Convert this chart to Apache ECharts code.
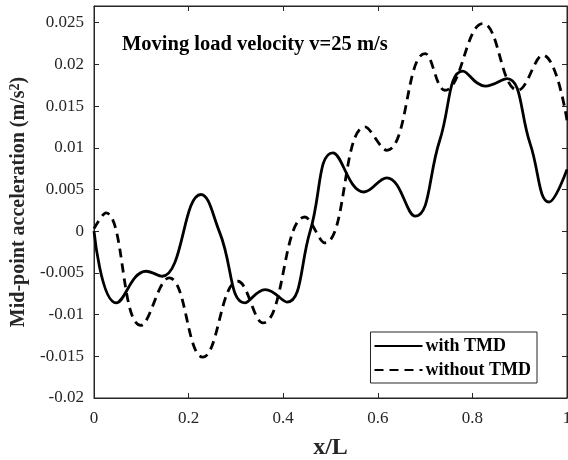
<!DOCTYPE html>
<html>
<head>
<meta charset="utf-8">
<script src="https://cdn.jsdelivr.net/npm/echarts@6/dist/echarts.min.js"></script>
<style>
  html, body { margin: 0; padding: 0; background: #fff; }
  #chart { width: 568px; height: 460px; }
</style>
</head>
<body>
<div id="chart"></div>
<script>
// values
var xWith = [0, 0.047, 0.110, 0.144, 0.226, 0.266, 0.319, 0.362, 0.408, 0.457, 0.505, 0.571, 0.619, 0.679, 0.731, 0.780, 0.827, 0.873, 0.922, 0.962, 1.0];
var yWith = [0, -0.0086, -0.0048, -0.0054, 0.0044, -0.0002, -0.0086, -0.0070, -0.0085, 0.0000, 0.0094, 0.0047, 0.0064, 0.0018, 0.0109, 0.0192, 0.0174, 0.0183, 0.0105, 0.0035, 0.0074];

var xWithout = [0, 0.025, 0.099, 0.159, 0.230, 0.304, 0.357, 0.446, 0.488, 0.573, 0.619, 0.700, 0.742, 0.822, 0.896, 0.949, 1.0];
var yWithout = [0.0003, 0.0022, -0.0113, -0.0056, -0.0151, -0.0060, -0.0110, 0.0017, -0.0014, 0.0125, 0.0097, 0.0213, 0.0169, 0.0249, 0.0169, 0.0211, 0.0133];

var seriesNames = ['with TMD', 'without TMD'];
var titleText = 'Moving load velocity v=25 m/s';

function pairs(xs, ys) {
    var out = [];
    for (var i = 0; i < xs.length; i++) {
        out.push([xs[i], ys[i]]);
    }
    return out;
}

var font = 'Liberation Serif';
var axisColor = '#262626';

var myChart = echarts.init(document.getElementById('chart'));
var option = {
    animation: false,
    backgroundColor: '#fff',
    title: {
        text: titleText,
        left: 117,
        top: 29,
        textStyle: { fontFamily: font, fontWeight: 'bold', fontSize: 20.5, color: '#000' }
    },
    grid: {
        left: 94, right: 1, top: 6, bottom: 62,
        outerBoundsMode: 'none',
        show: true, borderColor: axisColor, borderWidth: 1
    },
    legend: {
        orient: 'vertical',
        right: 31,
        bottom: 77,
        itemWidth: 48,
        itemHeight: 14,
        itemGap: 6,
        padding: [5, 6, 4, 3],
        borderColor: axisColor,
        borderWidth: 1,
        backgroundColor: '#fff',
        itemStyle: { color: 'rgba(0,0,0,0)', borderWidth: 0, opacity: 0 },
        textStyle: { fontFamily: font, fontWeight: 'bold', fontSize: 18, color: '#000', padding: [0, 0, 0, -2] },
        data: seriesNames
    },
    xAxis: [{
        type: 'value',
        min: 0,
        max: 1,
        interval: 0.2,
        name: 'x/L',
        nameLocation: 'middle',
        nameGap: 38,
        nameTextStyle: { fontFamily: font, fontWeight: 'bold', fontSize: 24, color: axisColor },
        axisLine: { onZero: false, lineStyle: { color: axisColor } },
        axisTick: { inside: true, length: 5, lineStyle: { color: axisColor } },
        axisLabel: { fontFamily: font, fontSize: 17, color: axisColor, margin: 12 },
        splitLine: { show: false }
    }, {
        type: 'value',
        position: 'top',
        min: 0,
        max: 1,
        interval: 0.2,
        axisLine: { onZero: false, lineStyle: { color: axisColor } },
        axisTick: { inside: true, length: 5, lineStyle: { color: axisColor } },
        axisLabel: { show: false },
        splitLine: { show: false }
    }],
    yAxis: [{
        type: 'value',
        min: -0.02,
        max: 0.027,
        interval: 0.005,
        name: 'Mid-point acceleration (m/s{sup|2})',
        nameLocation: 'middle',
        nameGap: 55,
        nameTextStyle: {
            fontFamily: font, fontWeight: 'bold', fontSize: 20, color: axisColor,
            rich: {
                sup: { fontFamily: font, fontWeight: 'bold', fontSize: 14, color: axisColor, verticalAlign: 'top', padding: [0, 0, 8, 0] }
            }
        },
        axisLine: { onZero: false, lineStyle: { color: axisColor } },
        axisTick: { inside: true, length: 5, lineStyle: { color: axisColor } },
        axisLabel: { fontFamily: font, fontSize: 17, color: axisColor, margin: 10, showMaxLabel: false },
        splitLine: { show: false }
    }, {
        type: 'value',
        position: 'right',
        min: -0.02,
        max: 0.027,
        interval: 0.005,
        axisLine: { onZero: false, lineStyle: { color: axisColor } },
        axisTick: { inside: true, length: 5, lineStyle: { color: axisColor } },
        axisLabel: { show: false },
        splitLine: { show: false }
    }],
    series: [{
        name: seriesNames[0],
        type: 'line',
        smooth: 0.45,
        showSymbol: false,
        symbol: 'none',
        data: pairs(xWith, yWith),
        lineStyle: { color: '#000', width: 2.8, type: 'solid' },
        itemStyle: { color: '#000' },
        z: 3
    }, {
        name: seriesNames[1],
        type: 'line',
        smooth: 0.45,
        showSymbol: false,
        symbol: 'none',
        data: pairs(xWithout, yWithout),
        lineStyle: { color: '#000', width: 2.8, type: [9, 6] },
        itemStyle: { color: '#000' },
        z: 2
    }]
};
myChart.setOption(option);
</script>
</body>
</html>
